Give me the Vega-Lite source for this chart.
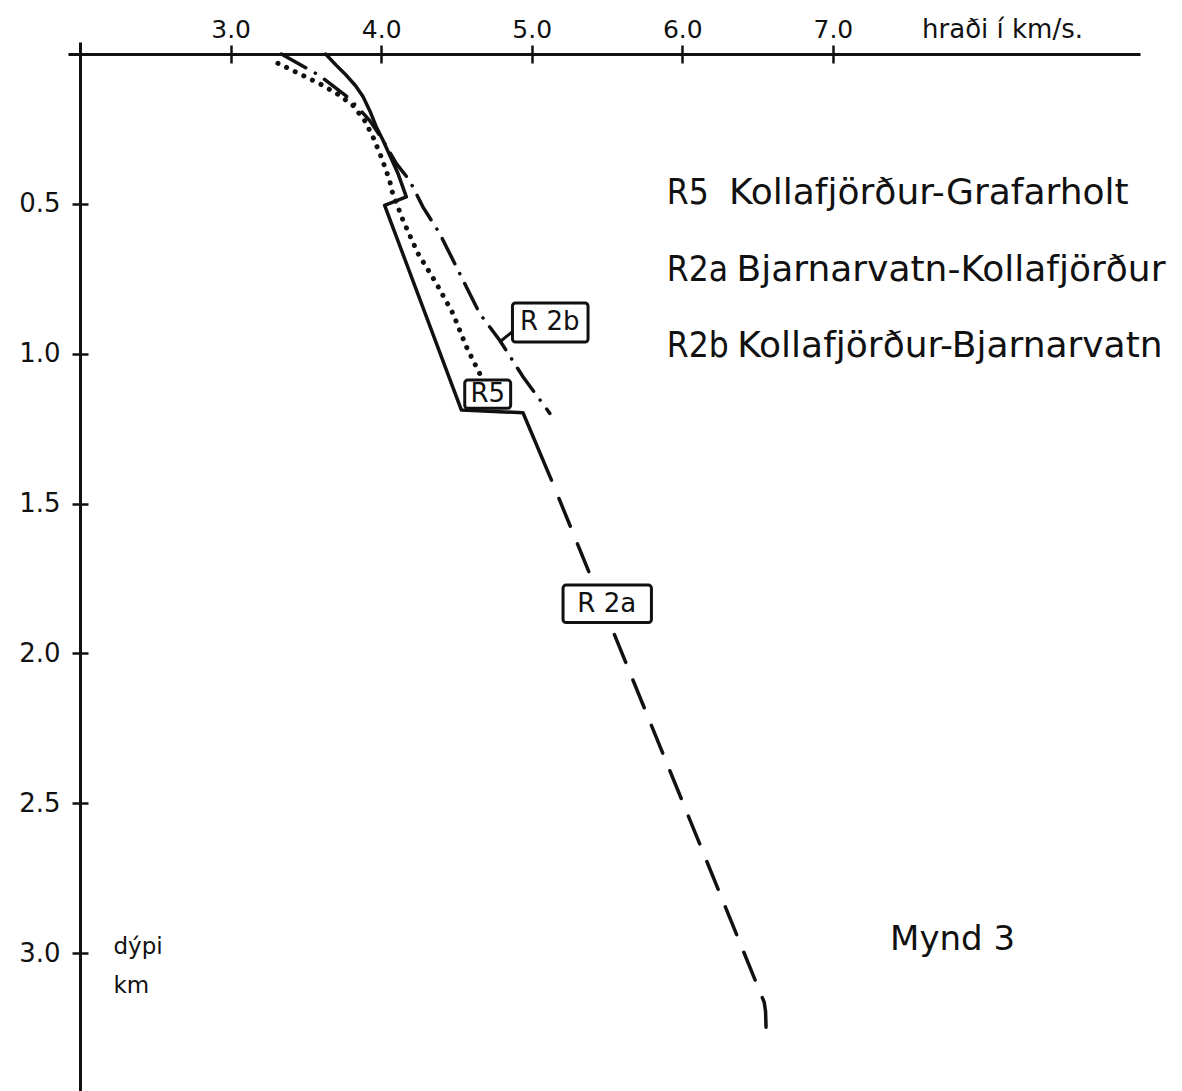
{
  "$schema": "https://vega.github.io/schema/vega-lite/v6.json",
  "width": 1072,
  "height": 1049,
  "autosize": {"type": "none"},
  "padding": {"left": 68, "top": 42, "right": 42, "bottom": 0},
  "background": "white",
  "config": {
    "view": {"stroke": null},
    "font": "DejaVu Sans",
    "axis": {
      "grid": false,
      "domainColor": "#111",
      "tickColor": "#111",
      "labelColor": "#111",
      "titleColor": "#111",
      "labelFont": "DejaVu Sans",
      "titleFont": "DejaVu Sans",
      "titleFontWeight": "normal"
    }
  },
  "datasets": {
    "ferlar": [
      {"lina": "R2a", "v": 3.631, "d": 0.0},
      {"lina": "R2a", "v": 3.702, "d": 0.038},
      {"lina": "R2a", "v": 3.77, "d": 0.072},
      {"lina": "R2a", "v": 3.83, "d": 0.106},
      {"lina": "R2a", "v": 3.879, "d": 0.142},
      {"lina": "R2a", "v": 3.925, "d": 0.19},
      {"lina": "R2a", "v": 3.965, "d": 0.24},
      {"lina": "R2a", "v": 4.012, "d": 0.288},
      {"lina": "R2a", "v": 4.057, "d": 0.338},
      {"lina": "R2a", "v": 4.112, "d": 0.399},
      {"lina": "R2a", "v": 4.167, "d": 0.477},
      {"lina": "R2a", "v": 4.023, "d": 0.505},
      {"lina": "R2a", "v": 4.533, "d": 1.188},
      {"lina": "R2a", "v": 4.942, "d": 1.197},
      {"lina": "R2a", "v": 5.131, "d": 1.422},
      {"lina": "R2a-brotin", "v": 5.181, "d": 1.483},
      {"lina": "R2a-brotin", "v": 6.544, "d": 3.164},
      {"lina": "R2a-brotin", "v": 6.553, "d": 3.194},
      {"lina": "R2a-brotin", "v": 6.557, "d": 3.261},
      {"lina": "R5", "v": 3.314, "d": 0.031},
      {"lina": "R5", "v": 3.458, "d": 0.066},
      {"lina": "R5", "v": 3.613, "d": 0.105},
      {"lina": "R5", "v": 3.724, "d": 0.138},
      {"lina": "R5", "v": 3.813, "d": 0.172},
      {"lina": "R5", "v": 3.89, "d": 0.222},
      {"lina": "R5", "v": 3.946, "d": 0.277},
      {"lina": "R5", "v": 4.001, "d": 0.344},
      {"lina": "R5", "v": 4.056, "d": 0.422},
      {"lina": "R5", "v": 4.074, "d": 0.461},
      {"lina": "R5", "v": 4.145, "d": 0.555},
      {"lina": "R5", "v": 4.245, "d": 0.666},
      {"lina": "R5", "v": 4.367, "d": 0.766},
      {"lina": "R5", "v": 4.477, "d": 0.866},
      {"lina": "R5", "v": 4.566, "d": 0.977},
      {"lina": "R5", "v": 4.654, "d": 1.066},
      {"lina": "R2b", "v": 3.337, "d": 0.0},
      {"lina": "R2b", "v": 3.591, "d": 0.072},
      {"lina": "R2b", "v": 3.791, "d": 0.149},
      {"lina": "R2b", "v": 3.924, "d": 0.222},
      {"lina": "R2b", "v": 4.012, "d": 0.288},
      {"lina": "R2b", "v": 4.101, "d": 0.366},
      {"lina": "R2b", "v": 4.189, "d": 0.422},
      {"lina": "R2b", "v": 4.278, "d": 0.511},
      {"lina": "R2b", "v": 4.389, "d": 0.599},
      {"lina": "R2b", "v": 4.544, "d": 0.755},
      {"lina": "R2b", "v": 4.654, "d": 0.866},
      {"lina": "R2b", "v": 4.787, "d": 0.955},
      {"lina": "R2b", "v": 4.942, "d": 1.077},
      {"lina": "R2b", "v": 5.12, "d": 1.199}
    ],
    "kassar": [
      {"merki": "R 2b", "v0": 4.872, "v1": 5.374, "d0": 0.831, "d1": 0.961, "tv": 5.12, "td": 0.895},
      {"merki": "R5", "v0": 4.555, "v1": 4.86, "d0": 1.088, "d1": 1.182, "tv": 4.708, "td": 1.135},
      {"merki": "R 2a", "v0": 5.208, "v1": 5.795, "d0": 1.772, "d1": 1.897, "tv": 5.498, "td": 1.835}
    ],
    "leidari": [
      {"v": 4.787, "d": 0.961, "v2": 4.871, "d2": 0.927}
    ],
    "sniD": [
      {"kodi": "R5", "vk": 5.897, "nafn": "Kollafjörður-Grafarholt", "vn": 6.31, "d": 0.465},
      {"kodi": "R2a", "vk": 5.897, "nafn": "Bjarnarvatn-Kollafjörður", "vn": 6.36, "d": 0.722},
      {"kodi": "R2b", "vk": 5.897, "nafn": "Kollafjörður-Bjarnarvatn", "vn": 6.365, "d": 0.975}
    ],
    "myndtexti": [
      {"texti": "Mynd 3", "v": 7.38, "d": 2.955}
    ]
  },
  "resolve": {"axis": {"x": "independent", "y": "independent"}},
  "layer": [
    {
      "data": {"name": "ferlar"},
      "transform": [{"filter": "datum.lina === 'R2a'"}],
      "mark": {"type": "line", "color": "#111", "strokeWidth": 3.5, "strokeCap": "round", "strokeJoin": "round"},
      "encoding": {
        "x": {
          "field": "v", "type": "quantitative",
          "scale": {"domain": [1.92, 9.04], "nice": false, "zero": false},
          "axis": {
            "orient": "top", "offset": -12, "values": [3, 4, 5, 6, 7], "format": ".1f",
            "labelFontSize": 25, "labelPadding": 3, "tickSize": 9, "tickWidth": 2.5, "domainWidth": 3,
            "title": "hraði í km/s.", "titleFontSize": 26, "titleAngle": 0, "titleAlign": "center",
            "titleBaseline": "bottom", "titleX": 934, "titleY": -12
          }
        },
        "y": {
          "field": "d", "type": "quantitative",
          "scale": {"domain": [-0.04, 3.46], "nice": false, "zero": false, "reverse": true},
          "axis": {
            "orient": "left", "offset": -12, "values": [0.5, 1, 1.5, 2, 2.5, 3], "format": ".1f",
            "labelFontSize": 26, "labelPadding": 12, "tickSize": 8, "tickWidth": 2.5, "domainWidth": 3,
            "title": ["dýpi", "km"], "titleFontSize": 23, "titleAngle": 0, "titleAlign": "left",
            "titleBaseline": "alphabetic", "titleLineHeight": 39, "titleX": 33, "titleY": 911
          }
        },
        "order": {"field": "d", "type": "quantitative"}
      }
    },
    {
      "data": {"name": "ferlar"},
      "transform": [{"filter": "datum.lina === 'R2a-brotin'"}],
      "mark": {"type": "line", "color": "#111", "strokeWidth": 3.5, "strokeCap": "round", "strokeJoin": "miter", "strokeDash": [30, 19]},
      "encoding": {
        "x": {"field": "v", "type": "quantitative", "scale": {"domain": [1.92, 9.04], "nice": false, "zero": false}, "axis": null},
        "y": {"field": "d", "type": "quantitative", "scale": {"domain": [-0.04, 3.46], "nice": false, "zero": false, "reverse": true}, "axis": null},
        "order": {"field": "d", "type": "quantitative"}
      }
    },
    {
      "data": {"name": "ferlar"},
      "transform": [{"filter": "datum.lina === 'R5'"}],
      "mark": {"type": "line", "color": "#111", "strokeWidth": 5, "strokeCap": "round", "strokeDash": [0.1, 9.5]},
      "encoding": {
        "x": {"field": "v", "type": "quantitative", "scale": {"domain": [1.92, 9.04], "nice": false, "zero": false}, "axis": null},
        "y": {"field": "d", "type": "quantitative", "scale": {"domain": [-0.04, 3.46], "nice": false, "zero": false, "reverse": true}, "axis": null},
        "order": {"field": "d", "type": "quantitative"}
      }
    },
    {
      "data": {"name": "ferlar"},
      "transform": [{"filter": "datum.lina === 'R2b'"}],
      "mark": {"type": "line", "color": "#111", "strokeWidth": 3.5, "strokeCap": "round", "strokeDash": [28, 11, 0.1, 11]},
      "encoding": {
        "x": {"field": "v", "type": "quantitative", "scale": {"domain": [1.92, 9.04], "nice": false, "zero": false}, "axis": null},
        "y": {"field": "d", "type": "quantitative", "scale": {"domain": [-0.04, 3.46], "nice": false, "zero": false, "reverse": true}, "axis": null},
        "order": {"field": "d", "type": "quantitative"}
      }
    },
    {
      "data": {"name": "leidari"},
      "mark": {"type": "rule", "color": "#111", "strokeWidth": 3},
      "encoding": {
        "x": {"field": "v", "type": "quantitative", "scale": {"domain": [1.92, 9.04], "nice": false, "zero": false}, "axis": null},
        "y": {"field": "d", "type": "quantitative", "scale": {"domain": [-0.04, 3.46], "nice": false, "zero": false, "reverse": true}, "axis": null},
        "x2": {"field": "v2"},
        "y2": {"field": "d2"}
      }
    },
    {
      "data": {"name": "kassar"},
      "mark": {"type": "rect", "fill": "white", "stroke": "#111", "strokeWidth": 3, "cornerRadius": 3},
      "encoding": {
        "x": {
          "field": "v0", "type": "quantitative",
          "scale": {"domain": [1.92, 9.04], "nice": false, "zero": false},
          "axis": {"orient": "bottom", "offset": -1037, "values": [3, 4, 5, 6, 7], "labels": false, "domain": false, "tickSize": 9, "tickWidth": 2.5, "title": null}
        },
        "x2": {"field": "v1"},
        "y": {
          "field": "d0", "type": "quantitative",
          "scale": {"domain": [-0.04, 3.46], "nice": false, "zero": false, "reverse": true},
          "axis": {"orient": "right", "offset": -1060, "values": [0.5, 1, 1.5, 2, 2.5, 3], "labels": false, "domain": false, "tickSize": 8, "tickWidth": 2.5, "title": null}
        },
        "y2": {"field": "d1"}
      }
    },
    {
      "data": {"name": "kassar"},
      "mark": {"type": "text", "color": "#111", "fontSize": 26, "align": "center", "baseline": "middle", "font": "DejaVu Sans"},
      "encoding": {
        "x": {"field": "tv", "type": "quantitative", "scale": {"domain": [1.92, 9.04], "nice": false, "zero": false}, "axis": null},
        "y": {"field": "td", "type": "quantitative", "scale": {"domain": [-0.04, 3.46], "nice": false, "zero": false, "reverse": true}, "axis": null},
        "text": {"field": "merki"}
      }
    },
    {
      "data": {"name": "sniD"},
      "mark": {"type": "text", "color": "#111", "fontSize": 35, "align": "left", "baseline": "middle", "font": "DejaVu Sans Condensed, DejaVu Sans"},
      "encoding": {
        "x": {"field": "vk", "type": "quantitative", "scale": {"domain": [1.92, 9.04], "nice": false, "zero": false}, "axis": null},
        "y": {"field": "d", "type": "quantitative", "scale": {"domain": [-0.04, 3.46], "nice": false, "zero": false, "reverse": true}, "axis": null},
        "text": {"field": "kodi"}
      }
    },
    {
      "data": {"name": "sniD"},
      "mark": {"type": "text", "color": "#111", "fontSize": 36, "align": "left", "baseline": "middle", "font": "DejaVu Sans"},
      "encoding": {
        "x": {"field": "vn", "type": "quantitative", "scale": {"domain": [1.92, 9.04], "nice": false, "zero": false}, "axis": null},
        "y": {"field": "d", "type": "quantitative", "scale": {"domain": [-0.04, 3.46], "nice": false, "zero": false, "reverse": true}, "axis": null},
        "text": {"field": "nafn"}
      }
    },
    {
      "data": {"name": "myndtexti"},
      "mark": {"type": "text", "color": "#111", "fontSize": 34, "align": "left", "baseline": "middle", "font": "DejaVu Sans"},
      "encoding": {
        "x": {"field": "v", "type": "quantitative", "scale": {"domain": [1.92, 9.04], "nice": false, "zero": false}, "axis": null},
        "y": {"field": "d", "type": "quantitative", "scale": {"domain": [-0.04, 3.46], "nice": false, "zero": false, "reverse": true}, "axis": null},
        "text": {"field": "texti"}
      }
    }
  ]
}
